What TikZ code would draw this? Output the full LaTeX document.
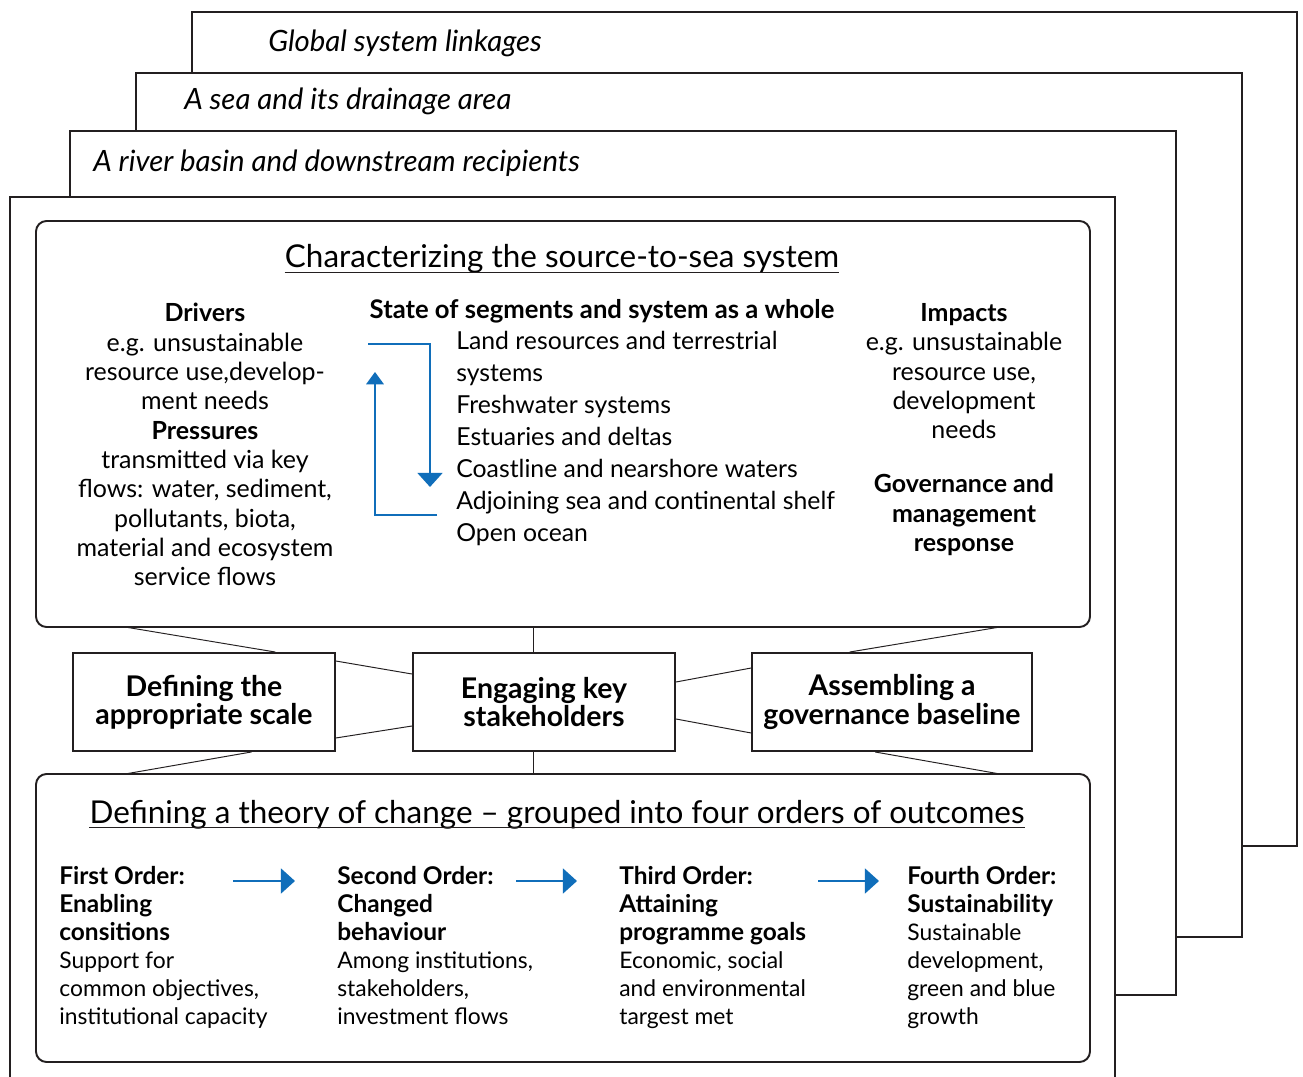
\documentclass[tikz,border=0pt]{standalone}
\usepackage{fontspec}
\setmainfont{Lato}
\usetikzlibrary{calc,arrows.meta}
\definecolor{flowblue}{RGB}{16,110,186}
\definecolor{ink}{RGB}{35,31,32}
\newcommand{\hd}[1]{{\fontsize{13.9}{15.9}\selectfont\bfseries #1}}

\tikzset{
	layer/.style = {draw=ink, line width=1.1pt, fill=white},
	panel/.style = {draw=ink, line width=1.1pt, rounded corners=6pt, fill=white},
	stepbox/.style = {draw=ink, line width=1.1pt, fill=white, align=center, inner sep=0pt,
		font=\fontsize{16.2}{16}\selectfont\bfseries},
	link/.style = {draw=ink, line width=.55pt},
	layertext/.style = {anchor=base west, inner sep=0pt, font=\fontsize{16.7}{18}\selectfont\itshape},
	title/.style = {anchor=base, inner sep=0pt, font=\fontsize{17.9}{20}\selectfont},
	column/.style = {anchor=north, align=center, inner sep=0pt, font=\fontsize{14.2}{16.7}\selectfont},
	listing/.style = {anchor=north west, align=left, inner sep=0pt, font=\fontsize{14.1}{18.2}\selectfont},
	order/.style = {anchor=north west, align=left, inner sep=0pt, font=\fontsize{13}{15.9}\selectfont},
	flow/.style = {draw=flowblue, line width=1.7pt, -{Triangle[width=14pt,length=8pt]}},
	backflow/.style = {draw=flowblue, line width=.9pt, -{Triangle[width=10pt,length=7pt]}}
}

\begin{document}
\begin{tikzpicture}[x=.2mm, y=-.2mm]
	\useasboundingbox (0,0) rectangle (1303,1077);

	% nested spatial layers, back to front
	\draw[layer] (192,12) rectangle (1297,846);
	\node[layertext] (global) at (268,52) {Global system linkages};
	\draw[layer] (136,73) rectangle (1242,937);
	\node[layertext] (sea) at (184,110) {A sea and its drainage area};
	\draw[layer] (70,131) rectangle (1176,995);
	\node[layertext] (basin) at (93,172) {A river basin and downstream recipients};
	\draw[layer] (10,1085) -- (10,197) -- (1115,197) -- (1115,1085);

	% characterizing the system
	\draw[panel] (36,221) rectangle (1090,627);
	\node[title] (chartitle) at (562,268) {Characterizing the source-to-sea system};
	\draw[line width=.9pt, ink] ([yshift=-2.5pt]chartitle.base west) -- ([yshift=-2.5pt]chartitle.base east);

	\node[column] (drivers) at (205,303) {\textbf{Drivers}\\ e.g. unsustainable\\ resource use,develop-\\ ment needs\\
		\textbf{Pressures}\\ transmitted via key\\ flows: water, sediment,\\ pollutants, biota,\\ material and ecosystem\\ service flows};
	\node[column, font=\fontsize{14.6}{16.7}\selectfont] (state) at (602,299) {\textbf{State of segments and system as a whole}};
	\node[listing] (segments) at (456,331) {Land resources and terrestrial\\ systems\\ Freshwater systems\\ Estuaries and deltas\\
		Coastline and nearshore waters\\ Adjoining sea and continental shelf\\ Open ocean};
	\node[column] (impacts) at (964,303) {\textbf{Impacts}\\ e.g. unsustainable\\ resource use,\\ development\\ needs};
	\node[column] (response) at (964,474) {\textbf{Governance and}\\ \textbf{management}\\ \textbf{response}};

	\draw[flow] (368,344) -- (430,344) -- (430,487);
	\draw[backflow] (437,515) -- (375,515) -- (375,372);

	% the three steps
	\node[stepbox, minimum width=52.4mm, minimum height=19.6mm] (scale) at (204,702) {Defining the\\ appropriate scale};
	\node[stepbox, minimum width=52.4mm, minimum height=19.6mm] (stake) at (544,702) {Engaging key\\ stakeholders};
	\node[stepbox, minimum width=56mm, minimum height=19.6mm] (baseline) at (892,702) {Assembling a\\ governance baseline};

	\coordinate (ta) at (125,627);
	\coordinate (tb) at (533,627);
	\coordinate (tc) at (1000,627);
	\coordinate (ba) at (125,774);
	\coordinate (bb) at (533,774);
	\coordinate (bc) at (1000,774);

	\draw[link] (ta) -- ($(scale.north west)!.77!(scale.north east)$);
	\draw[link] (ba) -- ($(scale.south west)!.68!(scale.south east)$);
	\draw[link] ($(scale.north east)!.09!(scale.south east)$) -- ($(stake.north west)!.22!(stake.south west)$);
	\draw[link] ($(scale.north east)!.86!(scale.south east)$) -- ($(stake.north west)!.74!(stake.south west)$);
	\draw[link] (tb) -- (tb |- stake.north);
	\draw[link] (bb) -- (bb |- stake.south);
	\draw[link] ($(stake.north east)!.30!(stake.south east)$) -- ($(baseline.north west)!.16!(baseline.south west)$);
	\draw[link] ($(stake.north east)!.67!(stake.south east)$) -- ($(baseline.north west)!.81!(baseline.south west)$);
	\draw[link] (tc) -- ($(baseline.north west)!.35!(baseline.north east)$);
	\draw[link] (bc) -- ($(baseline.south west)!.44!(baseline.south east)$);

	% theory of change
	\draw[panel] (36,774) rectangle (1090,1062);
	\node[title] (changetitle) at (557,823) {Defining a theory of change -- grouped into four orders of outcomes};
	\draw[line width=.9pt, ink] ([yshift=-2.5pt]changetitle.base west) -- ([yshift=-2.5pt]changetitle.base east);

	\node[order] (first) at (59,866) {\hd{First Order:}\\ \hd{Enabling}\\ \hd{consitions}\\ Support for\\ common objectives,\\ institutional capacity};
	\node[order] (second) at (337,866) {\hd{Second Order:}\\ \hd{Changed}\\ \hd{behaviour}\\ Among institutions,\\ stakeholders,\\ investment flows};
	\node[order] (third) at (619,866) {\hd{Third Order:}\\ \hd{Attaining}\\ \hd{programme goals}\\ Economic, social\\ and environmental\\ targest met};
	\node[order] (fourth) at (907,866) {\hd{Fourth Order:}\\ \hd{Sustainability}\\ Sustainable\\ development,\\ green and blue\\ growth};

	\foreach \xa/\xb in {233/295, 516/577, 818/879}
		\draw[flow] (\xa,881) -- (\xb,881);
\end{tikzpicture}
\end{document}
